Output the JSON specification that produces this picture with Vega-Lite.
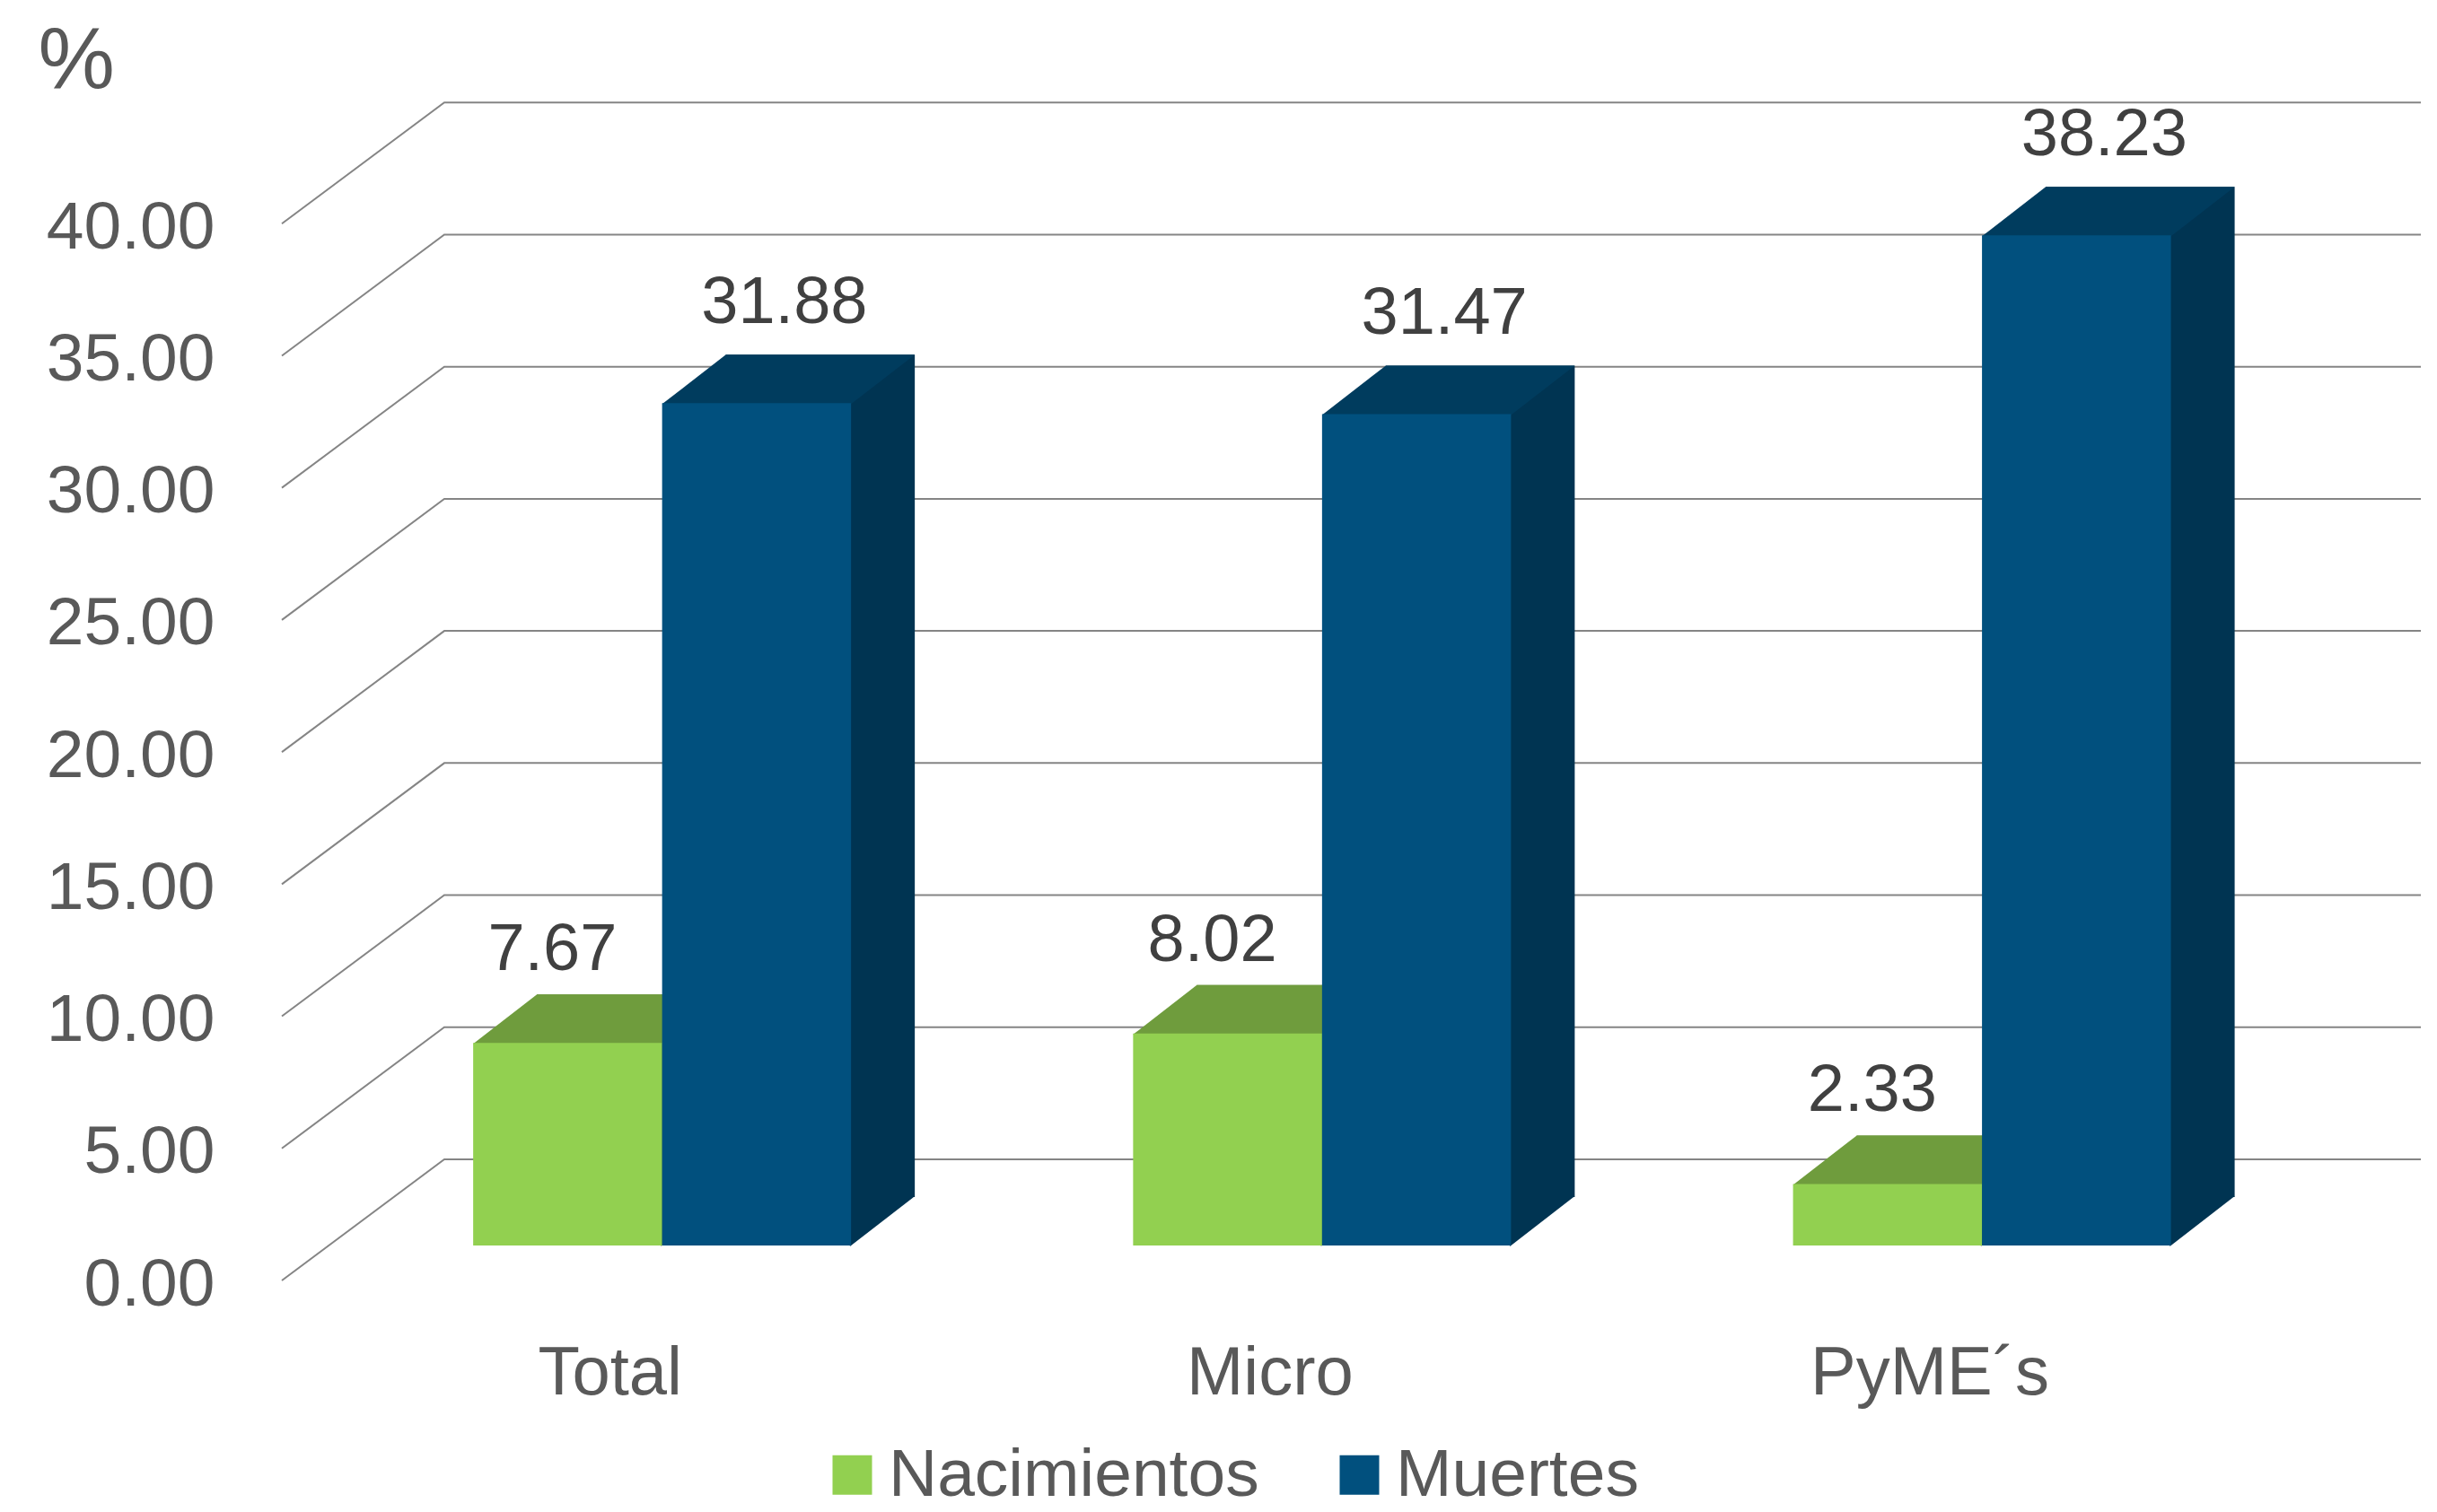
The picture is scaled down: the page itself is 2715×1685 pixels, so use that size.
{
  "$schema": "https://vega.github.io/schema/vega-lite/v6.json",
  "width": 2383,
  "height": 1325,
  "autosize": {"type": "none"},
  "padding": {"left": 314, "top": 102, "right": 18, "bottom": 258},
  "background": "white",
  "config": {"view": {"stroke": null}, "font": "Liberation Sans"},
  "datasets": {
    "bars": [
      {"cat": "Total", "serie": "Nacimientos", "v": 7.67},
      {"cat": "Total", "serie": "Muertes", "v": 31.88},
      {"cat": "Micro", "serie": "Nacimientos", "v": 8.02},
      {"cat": "Micro", "serie": "Muertes", "v": 31.47},
      {"cat": "PyME´s", "serie": "Nacimientos", "v": 2.33},
      {"cat": "PyME´s", "serie": "Muertes", "v": 38.23}
    ],
    "ticks": [
      {"v": 0}, {"v": 5}, {"v": 10}, {"v": 15}, {"v": 20},
      {"v": 25}, {"v": 30}, {"v": 35}, {"v": 40}
    ]
  },
  "resolve": {"scale": {"xOffset": "independent"}},
  "encoding": {
    "x": {
      "field": "cat", "type": "nominal", "sort": ["Total", "Micro", "PyME´s"],
      "scale": {"type": "band", "paddingInner": 0, "paddingOuter": 0.1206, "align": 0.316},
      "axis": {
        "title": null,
        "labelFontSize": 76,
        "labelColor": "#595959",
        "labelAngle": 0,
        "labelOffset": -58,
        "labelBaseline": "alphabetic",
        "labelPadding": 126,
        "labelLimit": 0,
        "ticks": false,
        "tickSize": 0,
        "domain": false,
        "grid": false
      }
    },
    "xOffset": {"field": "serie", "type": "nominal", "sort": ["Nacimientos", "Muertes"], "scale": {"type": "band", "domain": ["Nacimientos", "Muertes"], "paddingInner": 0, "paddingOuter": 0.7463}},
    "y": {
      "field": "v", "type": "quantitative",
      "scale": {"domain": [0, 45], "nice": false, "zero": true},
      "axis": {
        "values": [0, 5, 10, 15, 20, 25, 30, 35, 40],
        "format": ".2f",
        "labelFontSize": 75,
        "labelColor": "#595959",
        "labelPadding": 75,
        "labelOffset": 4,
        "labelLimit": 0,
        "ticks": false,
        "tickSize": 0,
        "domain": false,
        "grid": false,
        "title": "%",
        "titleFontSize": 96,
        "titleFontWeight": "normal",
        "titleColor": "#595959",
        "titleAngle": 0,
        "titleAlign": "left",
        "titleBaseline": "alphabetic",
        "titleX": -272,
        "titleY": -5
      }
    }
  },
  "layer": [
    {
      "data": {"name": "ticks"},
      "mark": {"type": "point", "shape": "M0,0L181,-135L2383,-135", "size": 4, "filled": false, "color": "#858585", "strokeWidth": 2, "opacity": 1},
      "encoding": {
        "x": {"value": 0},
        "xOffset": {"value": 0}
      }
    },
    {
      "data": {"name": "bars"},
      "mark": {"type": "bar", "yOffset": -93, "y2Offset": -93},
      "encoding": {
        "xOffset": {"field": "serie", "type": "nominal", "sort": ["Nacimientos", "Muertes"], "scale": {"type": "band", "domain": ["Nacimientos", "Muertes"], "range": [71, 806.2], "paddingInner": 0, "paddingOuter": 0.7463}},
        "color": {"condition": {"test": "datum.serie === 'Muertes'", "value": "#003452"}, "value": "#5E8533"}
      }
    },
    {
      "data": {"name": "bars"},
      "mark": {"type": "point", "shape": "M-105.25,-38L105.25,-38L176.25,-93L-34.25,-93Z", "size": 4, "filled": true, "strokeWidth": 0, "opacity": 1},
      "encoding": {
        "color": {"condition": {"test": "datum.serie === 'Muertes'", "value": "#003C5E"}, "value": "#6F9C3D"}
      }
    },
    {
      "data": {"name": "bars"},
      "mark": {"type": "point", "shape": "M104,-38L104,-94L176.25,-94Z", "size": 4, "filled": true, "strokeWidth": 0, "opacity": 1},
      "encoding": {
        "y": {"datum": 0, "type": "quantitative"},
        "color": {"condition": {"test": "datum.serie === 'Muertes'", "value": "#003452"}, "value": "#5E8533"}
      }
    },
    {
      "data": {"name": "bars"},
      "mark": {"type": "bar", "yOffset": -39, "y2Offset": -39},
      "encoding": {
        "color": {
          "field": "serie", "type": "nominal",
          "scale": {"domain": ["Nacimientos", "Muertes"], "range": ["#92D050", "#01507E"]},
          "legend": {
            "title": null,
            "orient": "none",
            "direction": "horizontal",
            "legendX": 598,
            "legendY": 1504,
            "padding": 0,
            "symbolType": "square",
            "symbolSize": 1936,
            "symbolStrokeWidth": 0,
            "symbolOpacity": 1,
            "labelFontSize": 75,
            "labelColor": "#595959",
            "labelOffset": 3,
            "columnPadding": 74,
            "labelLimit": 0
          }
        }
      }
    },
    {
      "data": {"name": "bars"},
      "transform": [{"filter": "datum.serie === 'Nacimientos'"}],
      "mark": {"type": "text", "fontSize": 74, "color": "#404040", "align": "center", "baseline": "alphabetic", "dx": -17, "dy": -120},
      "encoding": {
        "text": {"field": "v", "type": "quantitative", "format": ".2f"}
      }
    },
    {
      "data": {"name": "bars"},
      "transform": [{"filter": "datum.serie === 'Muertes'"}],
      "mark": {"type": "text", "fontSize": 74, "color": "#404040", "align": "center", "baseline": "alphabetic", "dx": 31, "dy": -128},
      "encoding": {
        "text": {"field": "v", "type": "quantitative", "format": ".2f"}
      }
    }
  ]
}
